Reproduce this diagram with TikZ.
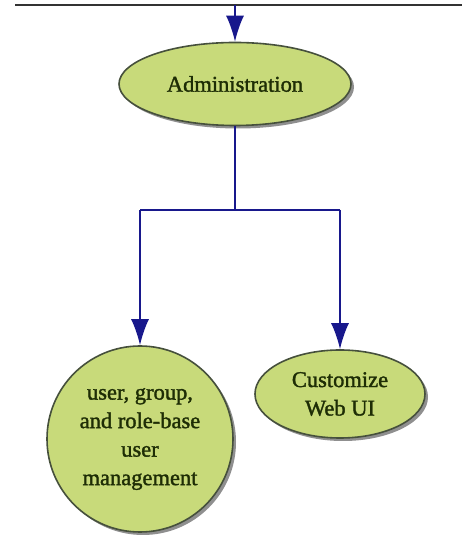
\documentclass[tikz,border=0pt]{standalone}
\usepackage{fontspec}
\setmainfont{Liberation Serif}
\newfontfamily\labelfont{Liberation Serif}[FakeBold=1.5]
\usetikzlibrary{shapes.geometric,arrows.meta,shadows}
\definecolor{nodefill}{RGB}{200,218,122}
\definecolor{nodeedge}{RGB}{70,80,60}
\definecolor{linknavy}{RGB}{24,24,140}
\definecolor{textgreen}{RGB}{30,45,5}
\tikzset{
  bubble/.style={draw=nodeedge, line width=1.6pt, fill=nodefill,
    text=textgreen, align=center, inner sep=0pt,
    font=\labelfont\fontsize{22.5}{28.5}\selectfont,
    drop shadow={shadow xshift=3pt, shadow yshift=-3pt, fill=black!55, opacity=0.8}},
  link/.style={draw=linknavy, line width=1.8pt},
  linkarrow/.style={link, -{Latex[length=26pt,width=18pt]}}
}
\begin{document}
\begin{tikzpicture}[x=1pt,y=1pt]
  \useasboundingbox[fill=white] (0,0) rectangle (462,546);
  % header rule with entry point
  \coordinate (ruleL) at (15,541);
  \coordinate (ruleR) at (462,541);
  \coordinate (entry) at (235,541);
  \draw[line width=1.8pt, black!80] (ruleL) -- (ruleR);

  % nodes
  \node[bubble, ellipse, minimum width=232pt, minimum height=83pt] (admin) at (235,462) {Administration};
  \node[bubble, circle, minimum size=186pt] (users) at (140,107) {user, group,\\and role-base\\user\\management};
  \node[bubble, ellipse, minimum width=170pt, minimum height=88pt] (webui) at (340,152) {Customize\\Web UI};

  % branch points
  \coordinate (fork) at (235,336);
  \coordinate (forkL) at (140,336);
  \coordinate (forkR) at (340,336);

  % connectors
  \draw[linkarrow] (entry) -- (admin.north);
  \draw[link] (admin.south) -- (fork);
  \draw[link] (forkL) -- (forkR);
  \draw[linkarrow] (forkL) -- (users.north);
  \draw[linkarrow] (forkR) -- (webui.north);
\end{tikzpicture}
\end{document}
